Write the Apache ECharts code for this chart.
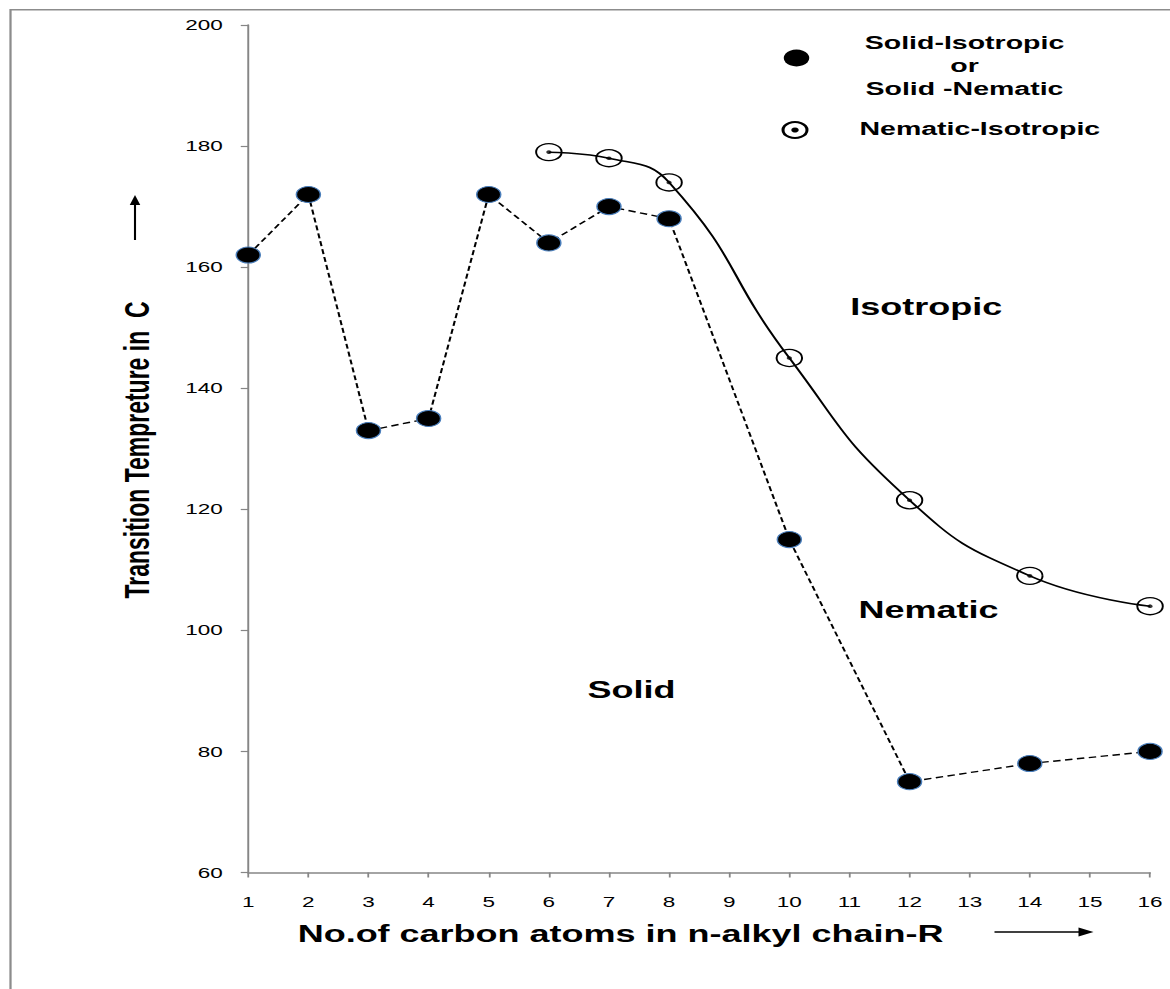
<!DOCTYPE html>
<html><head><meta charset="utf-8">
<script src="https://cdn.jsdelivr.net/npm/echarts@6/dist/echarts.min.js"></script>
<style>
html,body{margin:0;padding:0;background:#fff;overflow:hidden}
#wrap{width:1170px;height:989px;overflow:hidden;position:relative}
#chart{width:780px;height:989px;transform:scaleX(1.5);transform-origin:0 0}
</style>
</head><body><div id="wrap"><div id="chart"></div></div>
<script>
// ---- data ----
const carbonSolid   = [1, 2, 3, 4, 5, 6, 7, 8, 10, 12, 14, 16];
const tempSolid     = [162, 172, 133, 135, 172, 164, 170, 168, 115, 75, 78, 80];
const carbonNematic = [6, 7, 8, 10, 12, 14, 16];
const tempNematic   = [179, 178, 174, 145, 121.5, 109, 104];
const xRange = [1, 16, 1];     // min, max, step
const yRange = [60, 200, 20];  // min, max, step
const seriesNames = ['Solid-Isotropic\nor\nSolid -Nematic', 'Nematic-Isotropic'];
const xTitle = 'No.of carbon atoms in n-alkyl chain-R';
const yTitle = 'Transition Tempreture in  C';
const regionLabels = ['Isotropic', 'Nematic', 'Solid'];

const solidData = carbonSolid.map((c, i) => [c, tempSolid[i]]);
const nematicData = carbonNematic.map((c, i) => [c, tempNematic[i]]);

const FONT = 'Liberation Sans, Arial, sans-serif';
const axisGray = '#868686';

const chart = echarts.init(document.getElementById('chart'), null, {renderer: 'svg'});
chart.setOption({
  animation: false,
  backgroundColor: '#fff',
  grid: {left: 165.5, right: 13.3, top: 25, bottom: 116.5, containLabel: false},
  xAxis: {
    type: 'value', min: xRange[0], max: xRange[1], interval: xRange[2],
    axisLine: {show: true, onZero: false, lineStyle: {color: axisGray, width: 1.5}},
    axisTick: {show: true, length: 5, lineStyle: {color: axisGray, width: 1.2}},
    splitLine: {show: false},
    axisLabel: {margin: 22, fontSize: 15, color: '#000', fontFamily: FONT}
  },
  yAxis: {
    type: 'value', min: yRange[0], max: yRange[1], interval: yRange[2],
    axisLine: {show: true, onZero: false, lineStyle: {color: axisGray, width: 1.3}},
    axisTick: {show: true, length: 5, lineStyle: {color: axisGray, width: 1.2}},
    splitLine: {show: false},
    axisLabel: {margin: 17, fontSize: 15, color: '#000', fontFamily: FONT}
  },
  series: [
    {
      name: seriesNames[0], type: 'line', data: solidData,
      symbol: 'circle', symbolSize: 16, z: 3,
      itemStyle: {color: '#000', borderColor: '#4a7ebb', borderWidth: 1},
      lineStyle: {color: '#000', width: 1.4, type: [5, 3]}
    },
    {
      name: seriesNames[1], type: 'line', data: nematicData, smooth: 0.5,
      symbol: 'circle', symbolSize: 17, z: 4,
      itemStyle: {color: 'rgba(0,0,0,0)', borderColor: '#000', borderWidth: 1.3},
      lineStyle: {color: '#000', width: 1.5}
    },
    {
      name: 'dot', type: 'scatter', data: nematicData,
      symbol: 'circle', symbolSize: 3.5, z: 5,
      itemStyle: {color: '#000'}
    }
  ],
  graphic: [
    {type: 'rect', z: -1, shape: {x: 7, y: 9.7, width: 900, height: 1100},
     style: {fill: 'none', stroke: '#8c8c8c', lineWidth: 1.5}},
    // y title + arrow
    {type: 'text', x: 91, y: 450, rotation: Math.PI / 2,
     style: {text: yTitle, fontSize: 23, fontWeight: 'bold', fontFamily: FONT, fill: '#000', align: 'center', verticalAlign: 'middle'}},
    {type: 'line', shape: {x1: 90, y1: 240, x2: 90, y2: 203}, style: {stroke: '#000', lineWidth: 1.4}},
    {type: 'polygon', shape: {points: [[90, 195], [86.5, 205], [93.5, 205]]}, style: {fill: '#000'}},
    // x title + arrow
    {type: 'text', x: 413.7, y: 933,
     style: {text: xTitle, fontSize: 24, fontWeight: 'bold', fontFamily: FONT, fill: '#000', align: 'center', verticalAlign: 'middle'}},
    {type: 'line', shape: {x1: 663, y1: 932, x2: 721, y2: 932}, style: {stroke: '#000', lineWidth: 1.4}},
    {type: 'polygon', shape: {points: [[729, 932], [719, 927.5], [719, 936.5]]}, style: {fill: '#000'}},
    // legend
    {type: 'circle', shape: {cx: 531, cy: 58, r: 8.5}, style: {fill: '#000'}},
    {type: 'text', x: 643, y: 31,
     style: {text: seriesNames[0], fontSize: 19, fontWeight: 'bold', fontFamily: FONT, fill: '#000', align: 'center', verticalAlign: 'top', lineHeight: 23}},
    {type: 'circle', shape: {cx: 530, cy: 130, r: 8}, style: {fill: 'none', stroke: '#000', lineWidth: 2}},
    {type: 'circle', shape: {cx: 530, cy: 130, r: 2.5}, style: {fill: '#000'}},
    {type: 'text', x: 573, y: 128,
     style: {text: seriesNames[1], fontSize: 19, fontWeight: 'bold', fontFamily: FONT, fill: '#000', align: 'left', verticalAlign: 'middle'}},
    // region labels
    {type: 'text', x: 617.5, y: 306,
     style: {text: regionLabels[0], fontSize: 24, fontWeight: 'bold', fontFamily: FONT, fill: '#000', align: 'center', verticalAlign: 'middle'}},
    {type: 'text', x: 619, y: 609,
     style: {text: regionLabels[1], fontSize: 24, fontWeight: 'bold', fontFamily: FONT, fill: '#000', align: 'center', verticalAlign: 'middle'}},
    {type: 'text', x: 421, y: 689,
     style: {text: regionLabels[2], fontSize: 24, fontWeight: 'bold', fontFamily: FONT, fill: '#000', align: 'center', verticalAlign: 'middle'}}
  ]
});
</script>
</body></html>
